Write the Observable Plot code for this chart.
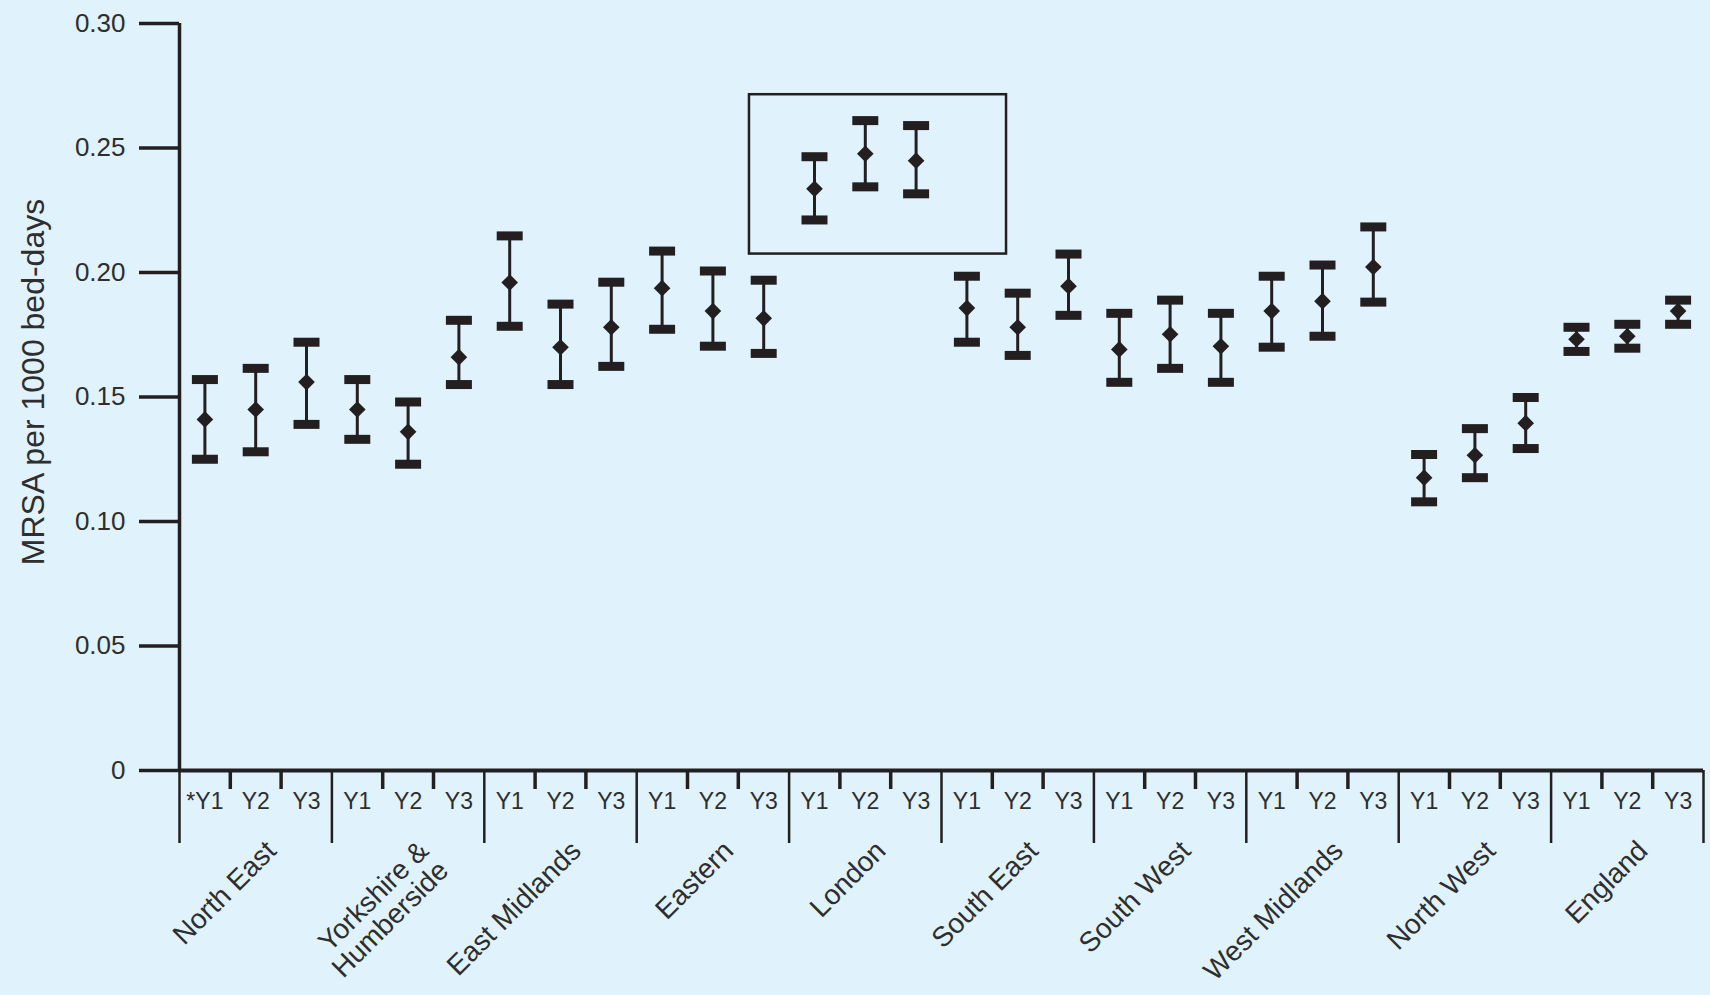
<!DOCTYPE html>
<html>
<head>
<meta charset="utf-8">
<script src="https://cdn.jsdelivr.net/npm/d3@7"></script>
<script src="https://cdn.jsdelivr.net/npm/@observablehq/plot@0.6"></script>
<style>
  html, body { margin: 0; padding: 0; background: #e0f2fc; }
  #chart svg { display: block; }
</style>
</head>
<body>
<div id="chart"></div>
<script>
// ---- data ----
const regions = ["North East", "Yorkshire &\nHumberside", "East Midlands", "Eastern", "London",
  "South East", "South West", "West Midlands", "North West", "England"];
const years = ["Y1", "Y2", "Y3"];
const means = [
  0.141, 0.145, 0.156,
  0.145, 0.136, 0.166,
  0.196, 0.170, 0.178,
  0.1937, 0.1845, 0.1816,
  0.2336, 0.2477, 0.2449,
  0.1857, 0.178, 0.1945,
  0.1691, 0.1752, 0.1704,
  0.1845, 0.1885, 0.2022,
  0.1176, 0.1266, 0.1395,
  0.1732, 0.1744, 0.1845
];
const lowers = [
  0.125, 0.128, 0.139,
  0.133, 0.123, 0.155,
  0.1784, 0.155, 0.1623,
  0.1772, 0.1704, 0.1675,
  0.2211, 0.2344, 0.2316,
  0.172, 0.1667, 0.1828,
  0.1559, 0.1615, 0.1559,
  0.170, 0.1744, 0.1881,
  0.1079, 0.1176, 0.1293,
  0.1683, 0.1696, 0.1792
];
const uppers = [
  0.157, 0.1615, 0.172,
  0.157, 0.148, 0.1808,
  0.2147, 0.1873, 0.1961,
  0.2086, 0.2006, 0.1969,
  0.2465, 0.261, 0.259,
  0.1985, 0.1917, 0.2074,
  0.1836, 0.1889, 0.1836,
  0.1985, 0.203, 0.2183,
  0.1269, 0.1373, 0.1498,
  0.178, 0.1792, 0.1889
];
const yTicks = [0, 0.05, 0.10, 0.15, 0.20, 0.25, 0.30];
const yLabel = "MRSA per 1000 bed-days";
const firstYearMark = "*";
// highlight box around London (data units: x index, y value)
const highlightBox = [{x1: 10.72, x2: 15.78, y1: 0.2074, y2: 0.2714}];

// ---- derived table ----
const data = means.map((m, i) => ({
  i, region: regions[Math.floor(i / 3)], year: years[i % 3],
  mean: m, lo: lowers[i], hi: uppers[i]
}));
const centers = data.map(d => d.i);
const xLabels = data.map((d, i) => (i === 0 ? firstYearMark : "") + d.year);
const inner = d3.range(0, regions.length).flatMap(g => [g * 3 + 0.5, g * 3 + 1.5]);
const bounds = d3.range(0, regions.length + 1).map(g => g * 3 - 0.5);
const groups = regions.map((r, g) => ({r, c: g * 3 + 1}));

const ink = "#231f20";
const textInk = "#2e2e2e";
const bg = "#e0f2fc";
const capSymbol = { draw(ctx) { ctx.rect(-13, -4.5, 26, 9); } };

const chart = Plot.plot({
  width: 1710,
  height: 995,
  marginLeft: 179,
  marginRight: 7,
  marginTop: 23,
  marginBottom: 225,
  style: { background: bg, fontFamily: "'Liberation Sans', Arial, sans-serif", color: textInk },
  x: { domain: [-0.5, 29.5] },
  y: { domain: [0, 0.30] },
  marks: [
    // y axis ticks & labels
    Plot.axisY(yTicks, {
      tickSize: 40, tickPadding: 14, fontSize: 26, strokeWidth: 3.5, stroke: ink,
      tickFormat: d => d === 0 ? "0" : d.toFixed(2), label: null
    }),
    // axis lines
    Plot.ruleX([-0.5], { y1: 0, y2: 0.30, stroke: ink, strokeWidth: 3.5 }),
    Plot.ruleY([0], { x1: -0.5, x2: 29.5, stroke: ink, strokeWidth: 4 }),
    // x axis: short inner ticks, long group ticks, year labels
    Plot.axisX(inner, { tickSize: 19, strokeWidth: 3.5, stroke: ink, fill: "none", label: null }),
    Plot.axisX(bounds, { tickSize: 73, strokeWidth: 2.5, stroke: ink, fill: "none", label: null }),
    Plot.axisX(centers, { tickSize: 0, tickPadding: 22, fontSize: 23, fill: textInk,
      tickFormat: d => xLabels[d], label: null }),
    // region labels
    Plot.text(groups, {
      x: "c", y: () => 0, text: "r", rotate: -45, textAnchor: "end", lineAnchor: "top",
      dx: 8, dy: 68, fontSize: 28, fill: textInk
    }),
    // y label
    Plot.text([yLabel], {
      frameAnchor: "left", textAnchor: "middle", lineAnchor: "middle", rotate: -90,
      dx: -146, dy: -15, fontSize: 32, fill: textInk
    }),
    // highlight box
    Plot.rect(highlightBox, { x1: "x1", x2: "x2", y1: "y1", y2: "y2", stroke: ink, strokeWidth: 2.5, fill: "none" }),
    // error bars
    Plot.ruleX(data, { x: "i", y1: "lo", y2: "hi", stroke: ink, strokeWidth: 3 }),
    Plot.dot(data, { x: "i", y: "hi", symbol: capSymbol, fill: ink, stroke: "none" }),
    Plot.dot(data, { x: "i", y: "lo", symbol: capSymbol, fill: ink, stroke: "none" }),
    Plot.dot(data, { x: "i", y: "mean", symbol: "diamond2", r: 7.5, fill: ink, stroke: "none" })
  ]
});
document.getElementById("chart").appendChild(chart);
</script>
</body>
</html>
